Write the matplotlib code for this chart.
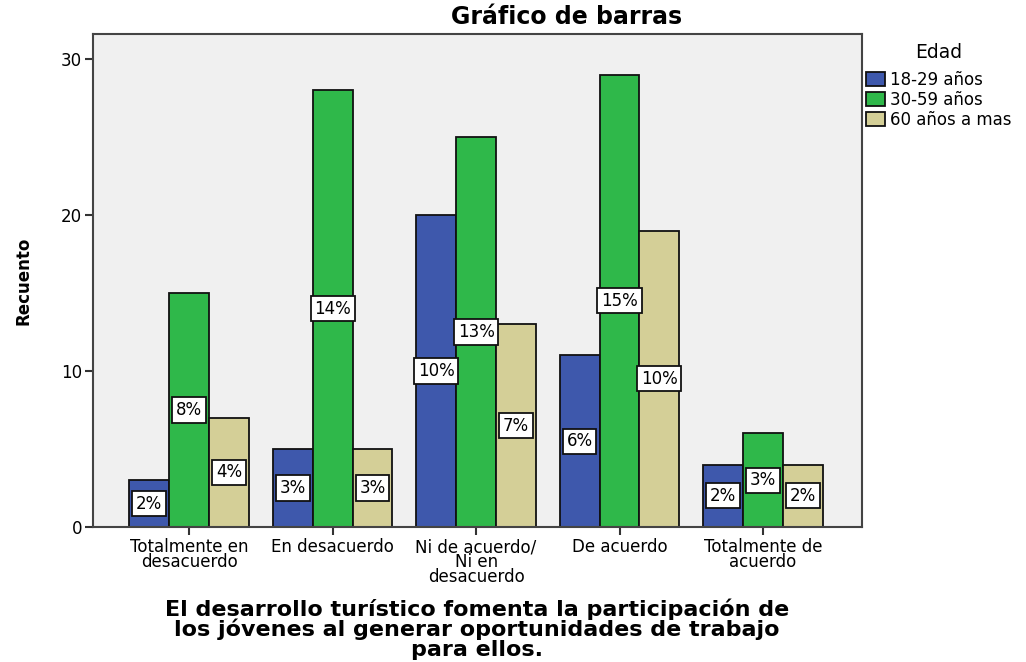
import matplotlib.pyplot as plt
import numpy as np
from matplotlib.patches import Patch

categorias = ["Totalmente en\ndesacuerdo", "En desacuerdo", "Ni de acuerdo/\nNi en\ndesacuerdo",
              "De acuerdo", "Totalmente de\nacuerdo"]
edades = ["18-29 años", "30-59 años", "60 años a mas"]
conteo_18_29 = [3, 5, 20, 11, 4]
conteo_30_59 = [15, 28, 25, 29, 6]
conteo_60 = [7, 5, 13, 19, 4]
porc_18_29 = ["2%", "3%", "10%", "6%", "2%"]
porc_30_59 = ["8%", "14%", "13%", "15%", "3%"]
porc_60 = ["4%", "3%", "7%", "10%", "2%"]

colores = ["#3e58ac", "#2fb84a", "#d4cf97"]

plt.rcParams['font.family'] = ['DejaVu Sans']

fig = plt.figure(figsize=(10.26, 6.62), dpi=100)
ax = fig.add_axes([93 / 1026, 1 - 527 / 662, (862 - 93) / 1026, (527 - 34) / 662])
ax.set_facecolor("#f0f0f0")

x_pos = np.arange(len(categorias))
ancho = 0.278
series = [(conteo_18_29, porc_18_29), (conteo_30_59, porc_30_59), (conteo_60, porc_60)]
for idx, (valores, etiquetas) in enumerate(series):
    pos = x_pos + (idx - 1) * ancho
    ax.bar(pos, valores, ancho, color=colores[idx], edgecolor="#111111", linewidth=1.3,
           label=edades[idx], zorder=2)
    for xp, v, et in zip(pos, valores, etiquetas):
        ax.text(xp, v / 2, et, ha="center", va="center", fontsize=12, zorder=3,
                bbox=dict(boxstyle="square,pad=0.22", facecolor="white",
                          edgecolor="#111111", linewidth=1.3))

ax.set_xlim(-0.67, 4.69)
ax.set_ylim(0, 31.6)
ax.set_yticks([0, 10, 20, 30])
ax.set_xticks(x_pos)
ax.set_xticklabels(categorias, fontsize=12, linespacing=0.78)
ax.tick_params(axis="both", length=6, width=1.5, color="#333333", labelsize=12, pad=2)
for sp in ax.spines.values():
    sp.set_color("#444444")
    sp.set_linewidth(1.5)

ax.set_ylabel("Recuento", fontsize=12, fontweight="bold", labelpad=20)
fig.text(477 / 1026, 1 - 629 / 662,
         "El desarrollo turístico fomenta la participación de\n"
         "los jóvenes al generar oportunidades de trabajo\npara ellos.",
         ha="center", va="center", fontsize=16, fontweight="bold", linespacing=0.95)
fig.text(567 / 1026, 1 - 17 / 662, "Gráfico de barras", ha="center", va="center",
         fontsize=17, fontweight="bold")

handles = [Patch(facecolor=c, edgecolor="#111111", linewidth=1.3) for c in colores]
leg = fig.legend(handles, edades, loc="upper left", bbox_to_anchor=(863 / 1026, 1 - 40 / 662),
                 title="Edad", frameon=False, fontsize=12, title_fontsize=13.5,
                 handlelength=1.1, handleheight=1.0, handletextpad=0.3, labelspacing=0.12,
                 borderaxespad=0, borderpad=0.2)
leg._legend_box.sep = 6

fig.savefig("out.png", dpi=100)
